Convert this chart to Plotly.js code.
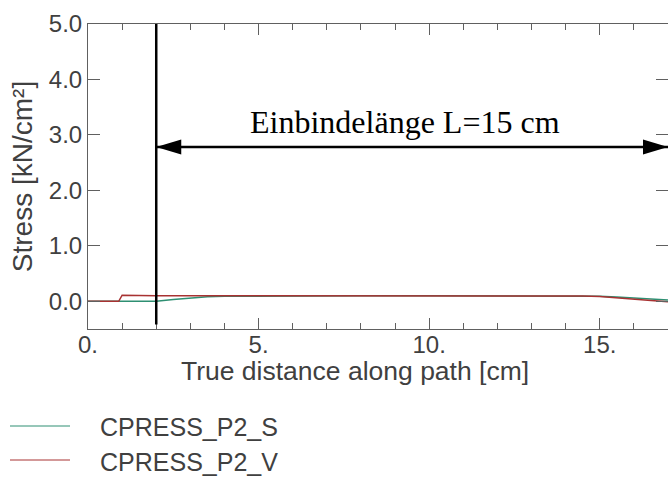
<!DOCTYPE html>
<html>
<head>
<meta charset="utf-8">
<script src="https://cdn.plot.ly/plotly-3.0.1.min.js"></script>
<style>html,body{margin:0;padding:0;background:#fff;}#chart{width:668px;height:477px;}</style>
</head>
<body>
<div id="chart"></div>
<script>
// ---- data ----
const seriesNames = ['CPRESS_P2_S', 'CPRESS_P2_V'];
const xS = [0, 1, 2, 2.5, 3, 3.5, 4, 5, 6, 8, 10, 12, 14, 14.5, 15, 15.5, 16, 16.5, 17];
const yS = [0, 0, 0, 0.03, 0.06, 0.08, 0.09, 0.095, 0.1, 0.1, 0.1, 0.1, 0.1, 0.095, 0.09, 0.075, 0.055, 0.035, 0.025];
const xV = [0, 0.9, 1.0, 1.5, 2, 3, 4, 6, 8, 10, 12, 14, 14.5, 15, 15.5, 16, 16.5, 17];
const yV = [0, 0, 0.11, 0.1, 0.1, 0.1, 0.1, 0.1, 0.1, 0.1, 0.1, 0.1, 0.095, 0.085, 0.065, 0.04, 0.015, -0.01];
const xTickVals = [0, 5, 10, 15];
const xTickText = ['0.', '5.', '10.', '15.'];
const yTickVals = [0, 1, 2, 3, 4, 5];
const yTickText = ['0.0', '1.0', '2.0', '3.0', '4.0', '5.0'];
const xTitle = 'True distance along path [cm]';
const yTitle = 'Stress [kN/cm²]';
const spanLabel = 'Einbindelänge L=15 cm';
const spanStart = 2;   // embedment start [cm]
const spanEnd = 17;    // embedment end [cm]
const spanY = 2.78;    // arrow height

// ---- layout helpers ----
const W = 668, H = 477, L = 88, R = 0, T = 24, B = 148;
const px = v => (v - L) / (W - L - R);
const py = v => (H - B - v) / (H - T - B);
const colors = ['#2e8f72', '#a83232'];
const axisCol = '#606060';
const textCol = '#404040';
const sans = 'Liberation Sans, Arial, sans-serif';

const traces = [
  {x: xS, y: yS, name: seriesNames[0], type: 'scatter', mode: 'lines',
   line: {color: colors[0], width: 1.5}, showlegend: false},
  {x: xV, y: yV, name: seriesNames[1], type: 'scatter', mode: 'lines',
   line: {color: colors[1], width: 1.5}, showlegend: false}
];

const shapes = [
  {type: 'line', xref: 'x', yref: 'y', x0: spanStart, x1: spanStart, y0: -0.42, y1: 5.0,
   line: {color: 'black', width: 2.5}},
  {type: 'line', xref: 'x', yref: 'y', x0: spanStart, x1: spanEnd, y0: spanY, y1: spanY,
   line: {color: 'black', width: 2.5}},
  {type: 'path', xref: 'x', yref: 'y', xsizemode: 'pixel', ysizemode: 'pixel',
   xanchor: spanStart, yanchor: spanY, path: 'M0,0 L25,7.5 L25,-7.5 Z',
   fillcolor: 'black', line: {width: 0}},
  {type: 'path', xref: 'x', yref: 'y', xsizemode: 'pixel', ysizemode: 'pixel',
   xanchor: spanEnd, yanchor: spanY, path: 'M0,0 L-25,7.5 L-25,-7.5 Z',
   fillcolor: 'black', line: {width: 0}},
  // legend lines
  {type: 'line', xref: 'paper', yref: 'paper', x0: px(10), x1: px(70), y0: py(426), y1: py(426),
   line: {color: colors[0], width: 1}},
  {type: 'line', xref: 'paper', yref: 'paper', x0: px(10), x1: px(70), y0: py(460), y1: py(460),
   line: {color: colors[1], width: 1}}
];

const annotations = [
  {text: spanLabel, xref: 'x', yref: 'y', x: 9.3, y: 3.24, showarrow: false,
   xanchor: 'center', yanchor: 'middle',
   font: {family: 'Liberation Serif, Times New Roman, serif', size: 32, color: 'black'}},
  {text: xTitle, xref: 'paper', yref: 'paper', x: px(355), y: py(371), showarrow: false,
   xanchor: 'center', yanchor: 'middle', font: {family: sans, size: 26.5, color: textCol}},
  {text: seriesNames[0], xref: 'paper', yref: 'paper', x: px(98), y: py(427), showarrow: false,
   xanchor: 'left', yanchor: 'middle', font: {family: sans, size: 25, color: textCol}},
  {text: seriesNames[1], xref: 'paper', yref: 'paper', x: px(98), y: py(462), showarrow: false,
   xanchor: 'left', yanchor: 'middle', font: {family: sans, size: 25, color: textCol}}
];

const layout = {
  width: W, height: H,
  margin: {l: L, r: R, t: T, b: B, pad: 0},
  paper_bgcolor: 'white', plot_bgcolor: 'white',
  showlegend: false,
  font: {family: sans, color: textCol},
  xaxis: {
    range: [0, 17], tickmode: 'array', tickvals: xTickVals, ticktext: xTickText,
    ticks: 'inside', ticklen: 11, tickwidth: 1, tickcolor: axisCol,
    showline: true, linecolor: axisCol, linewidth: 1, mirror: 'allticks',
    showgrid: false, zeroline: false, ticklabelstandoff: -6,
    minor: {dtick: 1, tick0: 0, ticks: 'inside', ticklen: 6, tickwidth: 1, tickcolor: axisCol, showgrid: false},
    tickfont: {family: sans, size: 24, color: textCol}
  },
  yaxis: {
    range: [-0.5, 5.0], tickmode: 'array', tickvals: yTickVals, ticktext: yTickText,
    ticks: 'inside', ticklen: 12, tickwidth: 1, tickcolor: axisCol,
    showline: true, linecolor: axisCol, linewidth: 1, mirror: 'allticks',
    showgrid: false, zeroline: false,
    tickfont: {family: sans, size: 24, color: textCol},
    title: {text: yTitle, font: {family: sans, size: 28, color: textCol}, standoff: 8}
  },
  shapes: shapes,
  annotations: annotations
};

Plotly.newPlot('chart', traces, layout, {displayModeBar: false, staticPlot: true});
</script>
</body>
</html>
